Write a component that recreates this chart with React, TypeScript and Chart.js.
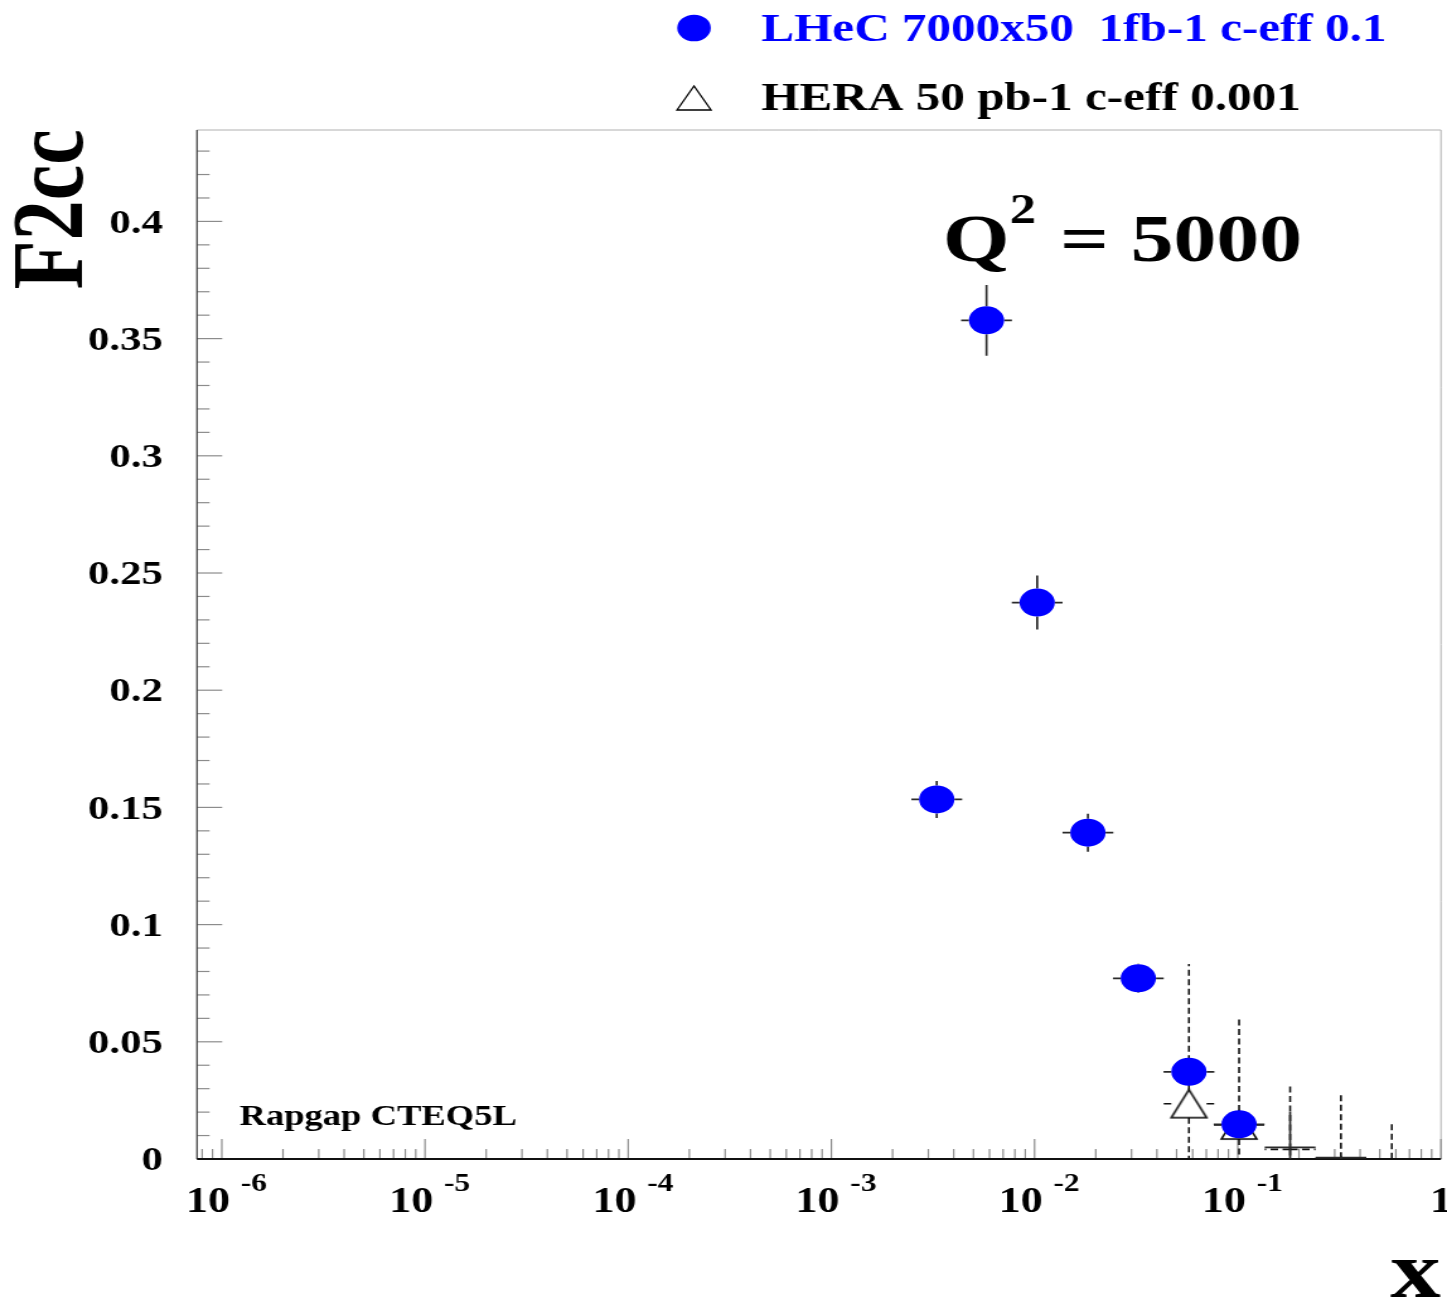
import React, { useEffect, useRef } from "react";
import { Chart, registerables } from "chart.js";

Chart.register(...registerables);

// ---------------- data ----------------
const LHEC_X = [0.0033, 0.0058, 0.0103, 0.0183, 0.0324, 0.0575, 0.1015];
const LHEC_Y = [0.1534, 0.3578, 0.2374, 0.1392, 0.0771, 0.0372, 0.0148];
const LHEC_YERR = [0.0079, 0.0151, 0.0115, 0.0081, 0.0062, 0.004, 0.003];

const EXTRA_X = [0.181, 0.322];
const EXTRA_Y = [0.005, 0.0006];
const EXTRA_YERR = [0.0152, 0.0008];

const HERA_X = [0.0575, 0.1015];
const HERA_Y = [0.0236, 0.0145];
const HERA_YERR = [0.0596, 0.0455];

const HERA_TAIL_X = [0.181, 0.322, 0.573];
const HERA_TAIL_Y = [0.0041, 0.0003, 0.0001];
const HERA_TAIL_YERR = [0.0283, 0.0284, 0.0154];

const BIN_HALF_DECADES = 0.125;

const X_MIN = 7.55e-7;
const X_MAX = 1;
const Y_MIN = 0;
const Y_MAX = 0.439;
const Y_STEP = 0.05;
const Y_MINOR_STEP = 0.01;
const X_LABEL_EXPONENTS = [-6, -5, -4, -3, -2, -1, 0];

const LEGEND_LABELS = ["LHeC 7000x50  1fb-1 c-eff 0.1", "HERA 50 pb-1 c-eff 0.001"];
const Y_TITLE = "F2cc";
const X_TITLE = "x";
const GEN_LABEL = "Rapgap CTEQ5L";

// ---------------- layout ----------------
const OUT_W = 1447;
const OUT_H = 1298;
const CANVAS_W = 1148;
const CANVAS_H = 1298;
const SERIF = '"Liberation Serif", "Times New Roman", serif';
const BLUE = "#0000ff";

function font(size: number) {
  return `bold ${size}px ${SERIF}`;
}

function makeTriangle(): HTMLCanvasElement {
  const c = document.createElement("canvas");
  c.width = 32;
  c.height = 32;
  const g = c.getContext("2d")!;
  g.strokeStyle = "#000";
  g.lineWidth = 1.6;
  g.lineJoin = "miter";
  g.beginPath();
  g.moveTo(16, 2);
  g.lineTo(30, 30);
  g.lineTo(2, 30);
  g.closePath();
  g.stroke();
  return c;
}

const errorBarPlugin = {
  id: "errorBars",
  beforeDatasetDraw(chart: any, args: any) {
    const ds = chart.data.datasets[args.index];
    const eb = ds.errorBars;
    if (!eb) return;
    const { ctx, chartArea } = chart;
    const xs = chart.scales.x;
    const ys = chart.scales.y;
    const f = Math.pow(10, BIN_HALF_DECADES);
    ctx.save();
    ctx.beginPath();
    ctx.rect(chartArea.left, chartArea.top, chartArea.right - chartArea.left, chartArea.bottom - chartArea.top);
    ctx.clip();
    ctx.strokeStyle = eb.color;
    ctx.lineWidth = eb.width;
    ctx.setLineDash(eb.dash);
    const gap = eb.gap;
    ds.data.forEach((p: any, i: number) => {
      const err = eb.yErr[i];
      const cx = xs.getPixelForValue(p.x);
      const cy = ys.getPixelForValue(p.y);
      const top = ys.getPixelForValue(p.y + err);
      const bot = ys.getPixelForValue(p.y - err);
      const left = xs.getPixelForValue(p.x / f);
      const right = xs.getPixelForValue(p.x * f);
      const seg = (x1: number, y1: number, x2: number, y2: number) => {
        ctx.beginPath();
        ctx.moveTo(x1, y1);
        ctx.lineTo(x2, y2);
        ctx.stroke();
      };
      if (top < cy - gap) seg(cx, cy - gap, cx, top);
      if (bot > cy + gap) seg(cx, cy + gap, cx, bot);
      if (left < cx - gap) seg(cx - gap, cy, left, cy);
      if (right > cx + gap) seg(cx + gap, cy, right, cy);
    });
    ctx.restore();
  },
};

const framePlugin = {
  id: "frame",
  beforeDatasetsDraw(chart: any) {
    const { ctx, chartArea } = chart;
    const { left, right, top, bottom } = chartArea;
    const xs = chart.scales.x;
    const ys = chart.scales.y;
    ctx.save();
    // light frame top/right
    ctx.strokeStyle = "#b0b0b0";
    ctx.lineWidth = 1;
    ctx.beginPath();
    ctx.moveTo(left, top);
    ctx.lineTo(right, top);
    ctx.lineTo(right, bottom);
    ctx.stroke();
    // ticks
    ctx.strokeStyle = "#8c8c8c";
    ctx.lineWidth = 1.2;
    for (let k = -7; k <= 0; k++) {
      for (let m = 1; m <= 9; m++) {
        const v = m * Math.pow(10, k);
        if (v < X_MIN || v > X_MAX * 1.0001) continue;
        const px = xs.getPixelForValue(v);
        const len = m === 1 ? 20 : 10;
        ctx.beginPath();
        ctx.moveTo(px, bottom);
        ctx.lineTo(px, bottom - len);
        ctx.stroke();
      }
    }
    const nMinor = Math.floor(Y_MAX / Y_MINOR_STEP + 1e-9);
    const ratio = Math.round(Y_STEP / Y_MINOR_STEP);
    for (let i = 0; i <= nMinor; i++) {
      const v = i * Y_MINOR_STEP;
      const py = ys.getPixelForValue(v);
      const len = i % ratio === 0 ? 20 : 10;
      ctx.beginPath();
      ctx.moveTo(left, py);
      ctx.lineTo(left + len, py);
      ctx.stroke();
    }
    // axes
    ctx.strokeStyle = "#444";
    ctx.lineWidth = 1.3;
    ctx.beginPath();
    ctx.moveTo(left, top);
    ctx.lineTo(left, bottom);
    ctx.stroke();
    ctx.strokeStyle = "#111";
    ctx.lineWidth = 2;
    ctx.beginPath();
    ctx.moveTo(left, bottom);
    ctx.lineTo(right, bottom);
    ctx.stroke();
    ctx.restore();
  },
  afterDraw(chart: any) {
    const { ctx } = chart;
    const xs = chart.scales.x;
    ctx.save();
    ctx.fillStyle = "#000";
    ctx.textBaseline = "alphabetic";
    // x tick labels
    X_LABEL_EXPONENTS.forEach((k) => {
      const px = xs.getPixelForValue(Math.pow(10, k));
      if (k === 0) {
        ctx.font = font(35);
        ctx.textAlign = "center";
        ctx.fillText("1", px, 1212);
      } else {
        ctx.font = font(35);
        ctx.textAlign = "left";
        ctx.fillText("10", px - 28.5, 1212);
        ctx.font = font(25);
        ctx.fillText(String(k), px + 15, 1190.7);
      }
    });
    // y title (rotated)
    ctx.save();
    ctx.translate(64.8, 129.3);
    ctx.rotate(-Math.PI / 2);
    ctx.font = font(80);
    ctx.textAlign = "right";
    ctx.fillText(Y_TITLE, 0, 0);
    ctx.restore();
    // x title
    ctx.font = font(80);
    ctx.textAlign = "right";
    ctx.fillText(X_TITLE, 1143, 1297);
    // Q^2 = 5000
    ctx.textAlign = "left";
    ctx.font = font(68);
    ctx.fillText("Q", 748, 261);
    ctx.font = font(42);
    ctx.fillText("2", 801, 223);
    ctx.font = font(68);
    ctx.fillText("=", 841, 261);
    ctx.fillText("5000", 897, 261);
    // generator label
    ctx.font = font(29);
    ctx.fillText(GEN_LABEL, 190, 1125);
    // legend
    const lx = 550.6;
    ctx.fillStyle = BLUE;
    ctx.beginPath();
    ctx.arc(lx, 28, 13.3, 0, Math.PI * 2);
    ctx.fill();
    ctx.strokeStyle = "#000";
    ctx.lineWidth = 1.3;
    ctx.beginPath();
    ctx.moveTo(lx, 86);
    ctx.lineTo(lx + 13.5, 110);
    ctx.lineTo(lx - 13.5, 110);
    ctx.closePath();
    ctx.stroke();
    ctx.font = font(39);
    ctx.fillStyle = BLUE;
    ctx.fillText(LEGEND_LABELS[0], 604, 41);
    ctx.fillStyle = "#000";
    ctx.fillText(LEGEND_LABELS[1], 604, 110);
    ctx.restore();
  },
};

const toPoints = (xs: number[], ys: number[]) => xs.map((x, i) => ({ x, y: ys[i] }));

export default function App() {
  const ref = useRef<HTMLCanvasElement | null>(null);

  useEffect(() => {
    document.body.style.margin = "0";
    const canvas = ref.current;
    if (!canvas) return;
    const tri = makeTriangle();
    const chart = new Chart(canvas, {
      type: "scatter",
      data: {
        datasets: [
          {
            label: "LHeC",
            data: toPoints(LHEC_X, LHEC_Y),
            pointStyle: "circle",
            pointRadius: 14,
            pointBackgroundColor: BLUE,
            pointBorderWidth: 0,
            showLine: false,
            errorBars: { yErr: LHEC_YERR, color: "#2a2a2a", width: 1.7, dash: [], gap: 14 },
          } as any,
          {
            label: "extra",
            data: toPoints(EXTRA_X, EXTRA_Y),
            pointRadius: 0,
            showLine: false,
            errorBars: { yErr: EXTRA_YERR, color: "#2a2a2a", width: 1.7, dash: [], gap: 0 },
          } as any,
          {
            label: "HERA",
            data: toPoints(HERA_X, HERA_Y),
            pointStyle: tri,
            pointRadius: 14,
            showLine: false,
            errorBars: { yErr: HERA_YERR, color: "#111", width: 1.6, dash: [6, 3.5], gap: 14 },
          } as any,
          {
            label: "HERA tail",
            data: toPoints(HERA_TAIL_X, HERA_TAIL_Y),
            pointRadius: 0,
            showLine: false,
            errorBars: { yErr: HERA_TAIL_YERR, color: "#111", width: 1.6, dash: [6, 3.5], gap: 0 },
          } as any,
        ],
      },
      options: {
        animation: false,
        responsive: false,
        devicePixelRatio: 1,
        events: [],
        layout: { autoPadding: false, padding: { top: 130, right: 4.8, left: 0, bottom: 0 } },
        plugins: { legend: { display: false }, tooltip: { enabled: false } },
        scales: {
          x: {
            type: "logarithmic",
            min: X_MIN,
            max: X_MAX,
            grid: { display: false, drawTicks: false },
            border: { display: false },
            ticks: { display: false },
            afterFit: (s: any) => {
              s.height = 139;
            },
          },
          y: {
            type: "linear",
            min: Y_MIN,
            max: Y_MAX,
            grid: { display: false, drawTicks: false },
            border: { display: false },
            ticks: {
              stepSize: Y_STEP,
              includeBounds: false,
              padding: 27,
              labelOffset: 2.5,
              color: "#000",
              font: { family: SERIF, weight: "bold", size: 34 },
              callback: (v: any) => String(parseFloat(Number(v).toFixed(2))),
            },
            afterFit: (s: any) => {
              s.width = 156.3;
            },
          },
        },
      } as any,
      plugins: [framePlugin, errorBarPlugin],
    });
    return () => chart.destroy();
  }, []);

  return (
    <div style={{ width: OUT_W, height: OUT_H, overflow: "hidden", background: "#fff" }}>
      <canvas
        ref={ref}
        width={CANVAS_W}
        height={CANVAS_H}
        style={{ width: OUT_W, height: OUT_H, display: "block" }}
      />
    </div>
  );
}
